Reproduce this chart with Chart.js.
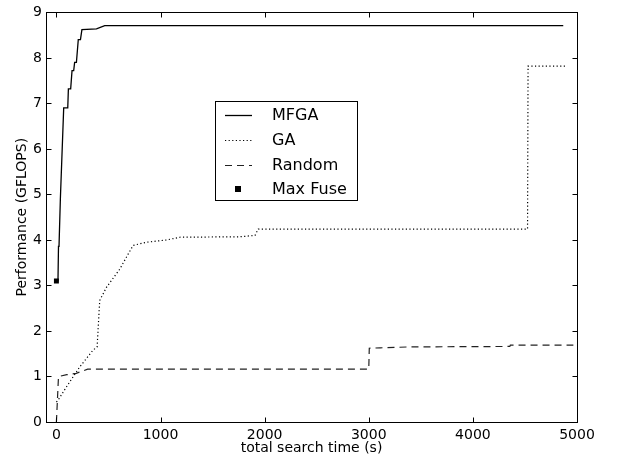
<!DOCTYPE html>
<html>
<head>
<meta charset="utf-8">
<script src="https://cdn.jsdelivr.net/npm/chart.js@4.4.0/dist/chart.umd.min.js"></script>
<style>
  html, body { margin: 0; padding: 0; background: #fff; }
</style>
</head>
<body>
<canvas id="perfChart" width="618" height="459"></canvas>
<script>
// ==== data ====
const mfgaTime = [0, 15, 20, 25, 38, 70, 109, 115, 137, 150, 166, 175, 192, 210, 231, 245, 385, 464, 4868];
const mfgaPerf = [3.1, 3.1, 3.86, 3.86, 4.9, 6.9, 6.9, 7.32, 7.32, 7.72, 7.72, 7.9, 7.9, 8.4, 8.4, 8.62, 8.64, 8.71, 8.71];

const gaTime = [0, 16, 96, 224, 352, 391, 416, 481, 609, 689, 737, 865, 1058, 1186, 1763, 1907, 1938, 4525, 4530, 4894];
const gaPerf = [0.44, 0.48, 0.77, 1.21, 1.58, 1.65, 2.67, 2.96, 3.36, 3.69, 3.88, 3.95, 4.0, 4.06, 4.07, 4.1, 4.24, 4.24, 7.82, 7.82];

const randomTime = [0, 20, 100, 190, 300, 3000, 3005, 3110, 3400, 4355, 4360, 4965];
const randomPerf = [0, 1.0, 1.04, 1.07, 1.16, 1.16, 1.62, 1.63, 1.65, 1.66, 1.69, 1.69];

const maxFuseTime = [0];
const maxFusePerf = [3.1];

const xTicks = [0, 1000, 2000, 3000, 4000, 5000];
const yTicks = [0, 1, 2, 3, 4, 5, 6, 7, 8, 9];

const xTitle = "total search time (s)";
const yTitle = "Performance (GFLOPS)";

const FONT = "DejaVu Sans";

function toPoints(xs, ys) {
    return xs.map((x, i) => ({ x: x, y: ys[i] }));
}

// ==== khung, vạch chia hướng vào trong, tiêu đề trục, chú thích ====
const framePlugin = {
    id: "frame",
    afterDraw(chart) {
        const ctx = chart.ctx;
        const a = chart.chartArea;
        const xs = chart.scales.x;
        const ys = chart.scales.y;
        const L = Math.round(a.left) + 0.5, R = Math.round(a.right) + 0.5;
        const T = Math.round(a.top) + 0.5, B = Math.round(a.bottom) + 0.5;
        const tick = 5;

        ctx.save();
        ctx.strokeStyle = "#000";
        ctx.lineWidth = 1;
        ctx.strokeRect(L, T, R - L, B - T);

        ctx.beginPath();
        xTicks.forEach((v) => {
            const px = Math.round(xs.getPixelForValue(v)) + 0.5;
            ctx.moveTo(px, B); ctx.lineTo(px, B - tick);
            ctx.moveTo(px, T); ctx.lineTo(px, T + tick);
        });
        yTicks.forEach((v) => {
            const py = Math.round(ys.getPixelForValue(v)) + 0.5;
            ctx.moveTo(L, py); ctx.lineTo(L + tick, py);
            ctx.moveTo(R, py); ctx.lineTo(R - tick, py);
        });
        ctx.stroke();

        // tiêu đề trục
        ctx.fillStyle = "#000";
        ctx.font = "14px '" + FONT + "'";
        ctx.textAlign = "center";
        ctx.textBaseline = "middle";
        ctx.fillText(xTitle, (a.left + a.right) / 2, 448);
        ctx.save();
        ctx.translate(22, (a.top + a.bottom) / 2);
        ctx.rotate(-Math.PI / 2);
        ctx.fillText(yTitle, 0, 0);
        ctx.restore();

        // chú thích
        const box = { x: 215.5, y: 101.5, w: 142, h: 99 };
        ctx.fillStyle = "#fff";
        ctx.fillRect(box.x, box.y, box.w, box.h);
        ctx.strokeRect(box.x, box.y, box.w, box.h);
        const rowY = [115, 140, 165, 189];
        ctx.font = "16px '" + FONT + "'";
        ctx.textAlign = "left";
        chart.data.datasets.forEach((ds, i) => {
            const y = rowY[i];
            ctx.strokeStyle = ds.borderColor;
            ctx.lineWidth = ds.borderWidth || 1;
            if (ds.showLine === false) {
                ctx.fillStyle = ds.pointBackgroundColor;
                ctx.fillRect(235, y - 3, 6, 6);
            } else {
                ctx.setLineDash(ds.borderDash || []);
                ctx.beginPath();
                ctx.moveTo(225, y + 0.5);
                ctx.lineTo(252, y + 0.5);
                ctx.stroke();
                ctx.setLineDash([]);
            }
            ctx.fillStyle = "#000";
            ctx.fillText(ds.label, 272, y + 1);
        });
        ctx.restore();
    },
};

const ctx = document.getElementById("perfChart").getContext("2d");
new Chart(ctx, {
    type: "line",
    data: {
        datasets: [
            {
                label: "MFGA",
                data: toPoints(mfgaTime, mfgaPerf),
                borderColor: "#000",
                borderWidth: 1.3,
                pointRadius: 0,
                fill: false,
                tension: 0,
            },
            {
                label: "GA",
                data: toPoints(gaTime, gaPerf),
                borderColor: "#000",
                borderWidth: 1.2,
                borderDash: [1.2, 2.4],
                pointRadius: 0,
                fill: false,
                tension: 0,
            },
            {
                label: "Random",
                data: toPoints(randomTime, randomPerf),
                borderColor: "#222",
                borderWidth: 1.2,
                borderDash: [7, 5],
                pointRadius: 0,
                fill: false,
                tension: 0,
            },
            {
                label: "Max Fuse",
                data: toPoints(maxFuseTime, maxFusePerf),
                showLine: false,
                pointStyle: "rect",
                pointRadius: 3.5,
                pointBackgroundColor: "#000",
                pointBorderColor: "#000",
                pointBorderWidth: 0,
            },
        ],
    },
    options: {
        responsive: false,
        animation: false,
        layout: { padding: { top: 11, right: 41, left: 0, bottom: 0 } },
        plugins: { legend: { display: false }, tooltip: { enabled: false } },
        scales: {
            x: {
                type: "linear",
                min: -100,
                max: 5000,
                afterBuildTicks: (s) => { s.ticks = xTicks.map((v) => ({ value: v })); },
                afterFit: (s) => { s.height = 37; },
                grid: { display: false, drawTicks: false },
                border: { display: false },
                ticks: {
                    color: "#000",
                    font: { family: FONT, size: 14 },
                    padding: 5,
                    maxRotation: 0,
                    callback: (v) => String(v),
                },
            },
            y: {
                type: "linear",
                min: 0,
                max: 9,
                afterBuildTicks: (s) => { s.ticks = yTicks.map((v) => ({ value: v })); },
                afterFit: (s) => { s.width = 46; },
                grid: { display: false, drawTicks: false },
                border: { display: false },
                ticks: {
                    color: "#000",
                    font: { family: FONT, size: 14 },
                    padding: 4,
                    callback: (v) => String(v),
                },
            },
        },
    },
    plugins: [framePlugin],
});
</script>
</body>
</html>
